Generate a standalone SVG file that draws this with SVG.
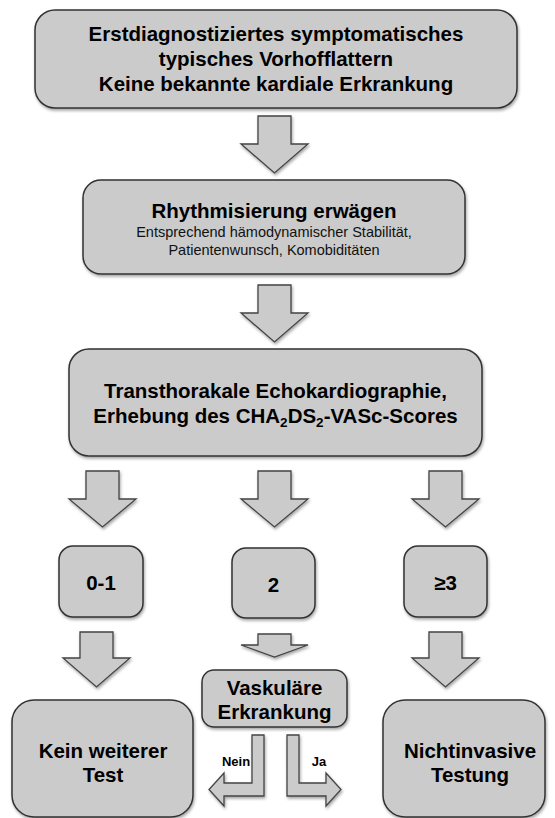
<svg xmlns="http://www.w3.org/2000/svg" width="555" height="818" viewBox="0 0 555 818">
<defs>
<filter id="sh" x="-10%" y="-10%" width="130%" height="130%">
<feDropShadow dx="1" dy="2" stdDeviation="1.5" flood-color="#000" flood-opacity="0.35"/>
</filter>
<style>
.box{fill:#cbcbcb;stroke:#333;stroke-width:1.5;filter:url(#sh)}
.arr{fill:#cbcbcb;stroke:#444;stroke-width:1.3;stroke-linejoin:miter;filter:url(#sh)}
.t{font-family:"Liberation Sans",Arial,Helvetica,sans-serif;font-weight:bold;font-size:20.5px;fill:#000;text-anchor:middle}
.s{font-family:"Liberation Sans",Arial,Helvetica,sans-serif;font-size:14.5px;fill:#111;text-anchor:middle}
.l{font-family:"Liberation Sans",Arial,Helvetica,sans-serif;font-weight:bold;font-size:13px;fill:#000;text-anchor:middle}
</style>
</defs>
<rect width="555" height="818" fill="#fff"/>

<g id="connectors">
<path class="arr" d="M258,116 H291 V144 H308 L274.5,173 L241,144 H258 Z"/>
<path class="arr" d="M258,285 H291 V313 H308 L274.5,342 L241,313 H258 Z"/>
<path class="arr" d="M86,471 H119 V499 H136 L102.5,527 L69,499 H86 Z"/>
<path class="arr" d="M258,471 H291 V499 H308 L274.5,527 L241,499 H258 Z"/>
<path class="arr" d="M429,471 H462 V499 H479 L445.5,527 L412,499 H429 Z"/>
<path class="arr" d="M80,632 H113 V658 H130 L96.5,687 L63,658 H80 Z"/>
<path class="arr" d="M258,634 H291 V645 H308 L274.5,657 L241,645 H258 Z"/>
<path class="arr" d="M429,632 H462 V658 H479 L445.5,687 L412,658 H429 Z"/>
<path class="arr" d="M252,735 H264 V796 H224 V806 L209,789.5 L224,773 V783 H252 Z"/>
<path class="arr" d="M287,735 H299 V783 H326 V773 L341,789.5 L326,806 V796 H287 Z"/>
<text class="l" x="236" y="766">Nein</text>
<text class="l" x="319" y="766">Ja</text>
</g>

<g id="n1">
<rect class="box" x="35" y="10" width="482" height="98" rx="20"/>
<text class="t" x="276" y="41">Erstdiagnostiziertes symptomatisches</text>
<text class="t" x="276" y="66">typisches Vorhofflattern</text>
<text class="t" x="276" y="91">Keine bekannte kardiale Erkrankung</text>
</g>

<g id="n2">
<rect class="box" x="83" y="180" width="382" height="94" rx="18"/>
<text class="t" x="274" y="218">Rhythmisierung erwägen</text>
<text class="s" x="274" y="237">Entsprechend hämodynamischer Stabilität,</text>
<text class="s" x="274" y="255">Patientenwunsch, Komobiditäten</text>
</g>

<g id="n3">
<rect class="box" x="69" y="349" width="413" height="107" rx="20"/>
<text class="t" x="275.5" y="398">Transthorakale Echokardiographie,</text>
<text class="t" x="275.5" y="423">Erhebung des CHA<tspan font-size="13.5px" dy="4">2</tspan><tspan dy="-4">DS</tspan><tspan font-size="13.5px" dy="4">2</tspan><tspan dy="-4">-VASc-Scores</tspan></text>
</g>

<g id="n4">
<rect class="box" x="59" y="546" width="84" height="71" rx="14"/>
<text class="t" x="101" y="590" font-size="19.5px">0-1</text>
</g>

<g id="n5">
<rect class="box" x="232" y="548" width="83" height="70" rx="14"/>
<text class="t" x="273.5" y="592" font-size="19.5px">2</text>
</g>

<g id="n6">
<rect class="box" x="404" y="546" width="83" height="71" rx="14"/>
<text class="t" x="445.5" y="590" font-size="19.5px">≥3</text>
</g>

<g id="n7">
<rect class="box" x="202" y="670" width="145" height="57" rx="12"/>
<text class="t" x="274.5" y="695" font-size="21px">Vaskuläre</text>
<text class="t" x="274.5" y="719" font-size="21px">Erkrankung</text>
</g>

<g id="n8">
<rect class="box" x="12" y="700" width="181" height="117" rx="22"/>
<text class="t" x="103" y="758" font-size="21px">Kein weiterer</text>
<text class="t" x="103" y="782" font-size="21px">Test</text>
</g>

<g id="n9">
<rect class="box" x="383" y="700" width="162" height="117" rx="22"/>
<text class="t" x="470" y="758" font-size="21px">Nichtinvasive</text>
<text class="t" x="470" y="782" font-size="21px">Testung</text>
</g>
</svg>
